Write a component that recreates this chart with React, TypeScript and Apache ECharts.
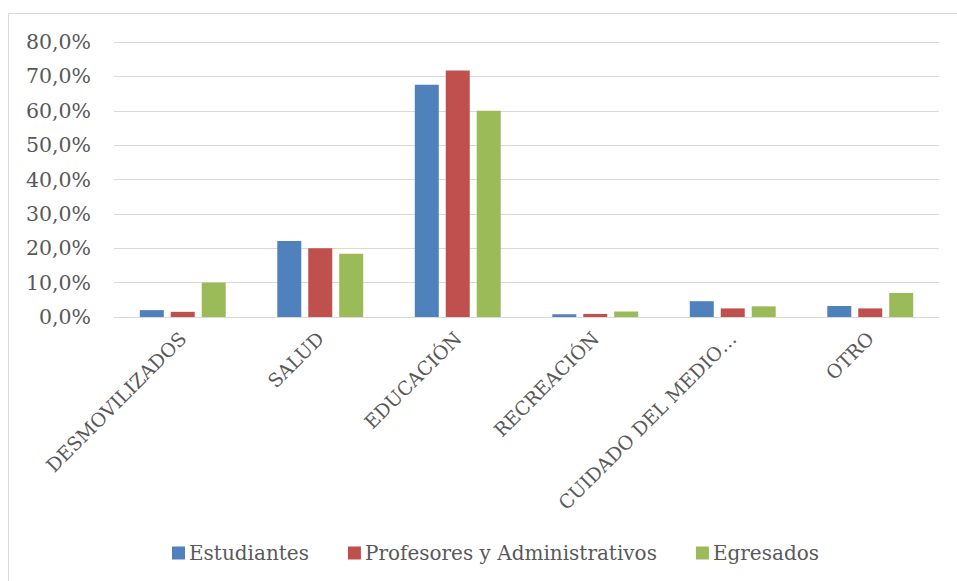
import React, { useEffect, useRef } from "react";
import * as echarts from "echarts";

const categories = ["DESMOVILIZADOS", "SALUD", "EDUCACIÓN", "RECREACIÓN", "CUIDADO DEL MEDIO…", "OTRO"];
const estudiantes = [2.0, 22.1, 67.6, 0.8, 4.6, 3.2];
const profesores = [1.5, 20.0, 71.7, 0.9, 2.5, 2.5];
const egresados = [10.0, 18.4, 60.0, 1.6, 3.1, 7.0];
const seriesNames = ["Estudiantes", "Profesores y Administrativos", "Egresados"];

const FONT = "DejaVu Serif";
const TEXT = "#595959";

export default function App() {
  const ref = useRef<HTMLDivElement>(null);
  useEffect(() => {
    if (!ref.current) return;
    const chart = echarts.init(ref.current, null, { renderer: "svg" });
    const mk = (name: string, data: number[], color: string) => ({
      name,
      type: "bar",
      data,
      barWidth: 24,
      barGap: "29%",
      itemStyle: { color },
    });
    chart.setOption({
      animation: false,
      textStyle: { fontFamily: FONT },
      graphic: [
        {
          type: "rect",
          shape: { x: 8.5, y: 13.5, width: 1000, height: 1000 },
          style: { fill: "none", stroke: "#D9D9D9", lineWidth: 1 },
          silent: true,
        },
      ],
      legend: {
        left: 167,
        top: 538,
        itemWidth: 13,
        itemHeight: 13,
        itemGap: 39,
        icon: "rect",
        textStyle: { fontFamily: FONT, fontSize: 20, color: TEXT, padding: [0, 0, 0, -1] },
        data: seriesNames,
      },
      grid: { left: 114, right: 18, top: 42, bottom: 264, containLabel: false },
      xAxis: {
        type: "category",
        data: categories,
        axisLine: { lineStyle: { color: "#D9D9D9", width: 1 } },
        axisTick: { show: false },
        axisLabel: {
          rotate: 45,
          interval: 0,
          margin: 18,
          fontFamily: FONT,
          fontSize: 19,
          color: TEXT,
        },
      },
      yAxis: {
        type: "value",
        min: 0,
        max: 80,
        interval: 10,
        axisLine: { show: false },
        axisTick: { show: false },
        splitLine: { lineStyle: { color: "#D9D9D9", width: 1 } },
        axisLabel: {
          margin: 23,
          fontFamily: FONT,
          fontSize: 20.5,
          color: TEXT,
          formatter: (v: number) => v.toFixed(1).replace(".", ",") + "%",
        },
      },
      series: [
        mk(seriesNames[0], estudiantes, "#4F81BD"),
        mk(seriesNames[1], profesores, "#C0504D"),
        mk(seriesNames[2], egresados, "#9BBB59"),
      ],
    });
    return () => chart.dispose();
  }, []);
  return (
    <div
      ref={ref}
      style={{ position: "fixed", left: 0, top: 0, width: 957, height: 581, background: "#fff" }}
    />
  );
}
